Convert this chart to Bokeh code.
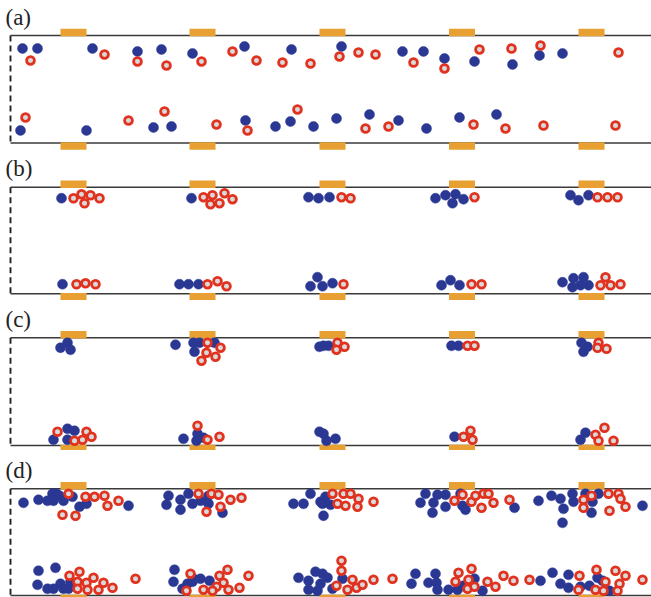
from bokeh.plotting import figure
from bokeh.layouts import column
from bokeh.models import Range1d, Label
from bokeh.embed import file_html
from bokeh.resources import INLINE

# ---------------- data (axial position x from inlet, depth y below top wall) ----------------
panel_labels = ["(a)", "(b)", "(c)", "(d)"]
electrode_x = [63, 192, 322, 451.5, 581]
channel_length = 641
channel_depth = [107.5, 106.6, 107.7, 106.7]

# (a)
a_blue_x = [12, 27, 82, 127, 151, 182, 234, 281, 331, 392, 413, 434, 464, 502, 529, 552,
            10, 76, 143, 161, 235, 265, 280, 303, 326, 359, 388, 416, 449, 486]
a_blue_y = [13, 13, 13, 16, 14, 18, 11, 14, 11, 16, 16, 23, 26, 29, 20, 18,
            95, 95, 92, 91, 85, 91, 86, 91, 83, 79, 85, 93, 82, 79]
a_red_x = [20, 94, 127, 156, 191, 222, 246, 272, 300, 329, 348, 365, 403, 434, 469, 501, 530, 608,
           15, 118, 154, 206, 237, 287, 355, 378, 463, 495, 533, 605]
a_red_y = [25, 19, 26, 30, 26, 16, 25, 27, 28, 21, 17, 19, 27, 33, 14, 13, 10, 17,
           82, 85, 76, 89, 95, 74, 93, 91, 89, 93, 90, 90]

# (b)
b_blue_x = [51, 181, 298, 308, 319, 425, 435, 445, 442, 453, 560, 568, 578,
            52, 169, 178, 188, 300, 307, 312, 322, 431, 440, 449, 552, 563, 573, 562, 570, 578]
b_blue_y = [11, 11, 10, 11, 10, 11, 8, 7, 16, 12, 8, 13, 8,
            97, 97, 97, 97, 99, 90, 99, 96, 98, 93, 98, 95, 91, 90, 100, 98, 98]
b_red_x = [63, 71, 74, 80, 89, 193, 202, 200, 209, 214, 222, 331, 340, 464, 587, 597, 607,
           66, 75, 85, 197, 207, 216, 333, 461, 471, 595, 590, 600, 610]
b_red_y = [11, 7, 16, 8, 11, 10, 8, 17, 16, 6, 12, 10, 11, 10, 10, 10, 10,
           97, 96, 97, 97, 94, 99, 97, 97, 97, 90, 98, 98, 97]

# (c)
c_blue_x = [50, 57, 60, 165, 183, 189, 184, 204, 309, 313, 318, 441, 448, 571, 577, 573,
            57, 64, 43, 57, 187, 173, 186, 193, 309, 313, 316, 325, 444, 570, 575]
c_blue_y = [10, 5, 12, 7, 5, 5, 14, 5, 9, 8, 8, 8, 8, 5, 9, 14,
            91, 93, 102, 102, 96, 101, 103, 100, 94, 96, 103, 101, 99, 102, 95]
c_red_x = [197, 210, 196, 205, 191, 327, 326, 334, 457, 464, 588, 587, 596,
           47, 76, 72, 64, 81, 187, 197, 209, 453, 460, 462, 585, 588, 594, 603]
c_red_y = [5, 10, 15, 19, 23, 5, 12, 9, 8, 8, 5, 10, 11,
           94, 94, 102, 103, 99, 88, 102, 99, 99, 93, 102, 97, 103, 90, 103]

# (d)
d_blue_x = [13, 28, 37, 42, 46, 49, 43, 53, 62, 69, 76, 118,
            158, 156, 170, 170, 178, 182, 190, 198, 198, 212,
            283, 293, 300, 310, 315, 312, 320, 313,
            415, 410, 427, 423, 422, 435, 435, 450, 452, 455, 504,
            528, 541, 550, 553, 552, 562, 563, 575, 581, 582, 588, 632,
            28, 45, 27, 37, 43, 50, 53, 60, 58,
            164, 163, 172, 177, 182, 183, 190, 199,
            288, 298, 305, 298, 307, 310, 312, 317, 322, 332,
            405, 401, 418, 425, 426, 427, 438, 447, 453, 464, 472, 530,
            542, 550, 558, 558, 570, 579, 587, 592, 599]
d_blue_y = [14, 11, 12, 5, 5, 7, 12, 12, 8, 18, 15, 17,
            7, 16, 11, 21, 5, 15, 12, 7, 15, 24,
            15, 15, 5, 13, 8, 15, 16, 27,
            5, 14, 6, 14, 24, 6, 18, 5, 17, 21, 19,
            12, 7, 10, 20, 34, 5, 13, 5, 24, 13, 5, 17,
            82, 79, 96, 100, 100, 95, 100, 93, 100,
            81, 93, 100, 95, 93, 90, 90, 92,
            89, 92, 83, 101, 102, 95, 85, 89, 100, 90,
            85, 95, 94, 85, 94, 101, 101, 101, 97, 90, 102, 92,
            84, 95, 86, 99, 98, 97, 89, 92, 102]
d_red_x = [58, 75, 84, 94, 97, 108, 52, 65,
           188, 201, 208, 210, 220, 231, 196,
           322, 333, 340, 327, 335, 348, 347, 363,
           444, 452, 461, 465, 473, 471, 478, 483, 499,
           573, 573, 581, 598, 608, 610, 599, 615,
           59, 69, 67, 67, 76, 77, 83, 88, 93, 102, 125,
           180, 209, 217, 213, 238, 229, 218, 206, 202, 176, 193,
           331, 331, 326, 337, 342, 346, 352, 363, 382,
           448, 461, 458, 445, 457, 464, 477, 485, 493, 503, 519,
           569, 568, 586, 595, 585, 593, 605, 615, 609, 607, 632]
d_red_y = [5, 8, 8, 7, 17, 12, 26, 27,
           5, 5, 6, 18, 11, 9, 23,
           5, 5, 5, 15, 17, 10, 18, 13,
           12, 6, 13, 7, 5, 19, 5, 14, 11,
           11, 19, 7, 5, 5, 10, 22, 18,
           87, 83, 93, 100, 94, 101, 89, 101, 94, 99, 90,
           85, 87, 81, 94, 87, 99, 101, 98, 102, 102, 101,
           72, 82, 97, 101, 91, 99, 96, 91, 90,
           84, 80, 91, 93, 100, 98, 93, 98, 87, 92, 91,
           87, 101, 81, 93, 101, 102, 82, 87, 95, 102, 91]

blue_x = [a_blue_x, b_blue_x, c_blue_x, d_blue_x]
blue_y = [a_blue_y, b_blue_y, c_blue_y, d_blue_y]
red_x = [a_red_x, b_red_x, c_red_x, d_red_x]
red_y = [a_red_y, b_red_y, c_red_y, d_red_y]

# ---------------- style / layout ----------------
fig_heights = [150, 150, 150, 147]
top_offsets = [35, 36.7, 37.3, 38.3]
BLUE = "#2b3893"
RED = "#e0321f"
RING_FILL = "#d9d9d9"
ORANGE = "#e8a032"
WALL = "#3a3a3a"
EL_W = 26
EL_H = 7.5

figs = []
for i in range(4):
    h = fig_heights[i]
    top = top_offsets[i]
    d = channel_depth[i]
    p = figure(width=651, height=h, x_range=Range1d(-10, 641),
               y_range=Range1d(h - top, -top), output_backend="svg",
               toolbar_location=None, min_border=0, x_axis_type=None, y_axis_type=None,
               outline_line_color=None, background_fill_color="white",
               border_fill_color="white")
    # walls
    p.segment(x0=[0, 0], y0=[0, d], x1=[channel_length, channel_length], y1=[0, d],
              line_color=WALL, line_width=1.6)
    p.segment(x0=[0], y0=[0], x1=[0], y1=[d], line_color="#222222",
              line_width=1.9, line_dash="6 4")
    # electrodes
    p.rect(x=electrode_x, y=[-EL_H / 2 + 0.8] * 5, width=EL_W, height=EL_H,
           fill_color=ORANGE, line_color=None)
    p.rect(x=electrode_x, y=[d + EL_H / 2 - 0.8] * 5, width=EL_W, height=EL_H,
           fill_color=ORANGE, line_color=None)
    # particles
    p.scatter(x=blue_x[i], y=blue_y[i], size=10, marker="circle",
              fill_color=BLUE, line_color=BLUE, line_width=0.5)
    p.scatter(x=red_x[i], y=red_y[i], size=7.8, marker="circle",
              fill_color=RING_FILL, line_color=RED, line_width=2.8)
    p.add_layout(Label(x=-5, y=-31, text=panel_labels[i], text_font="Liberation Serif",
                       text_font_size="23px", text_baseline="top", text_color="#222222"))
    figs.append(p)

layout = column(*figs, spacing=0)
html = file_html(layout, INLINE)
html = html.replace("</head>", "<style>html,body{margin:0;padding:0;overflow:hidden;}</style></head>", 1)
open("out.html", "w").write(html)
